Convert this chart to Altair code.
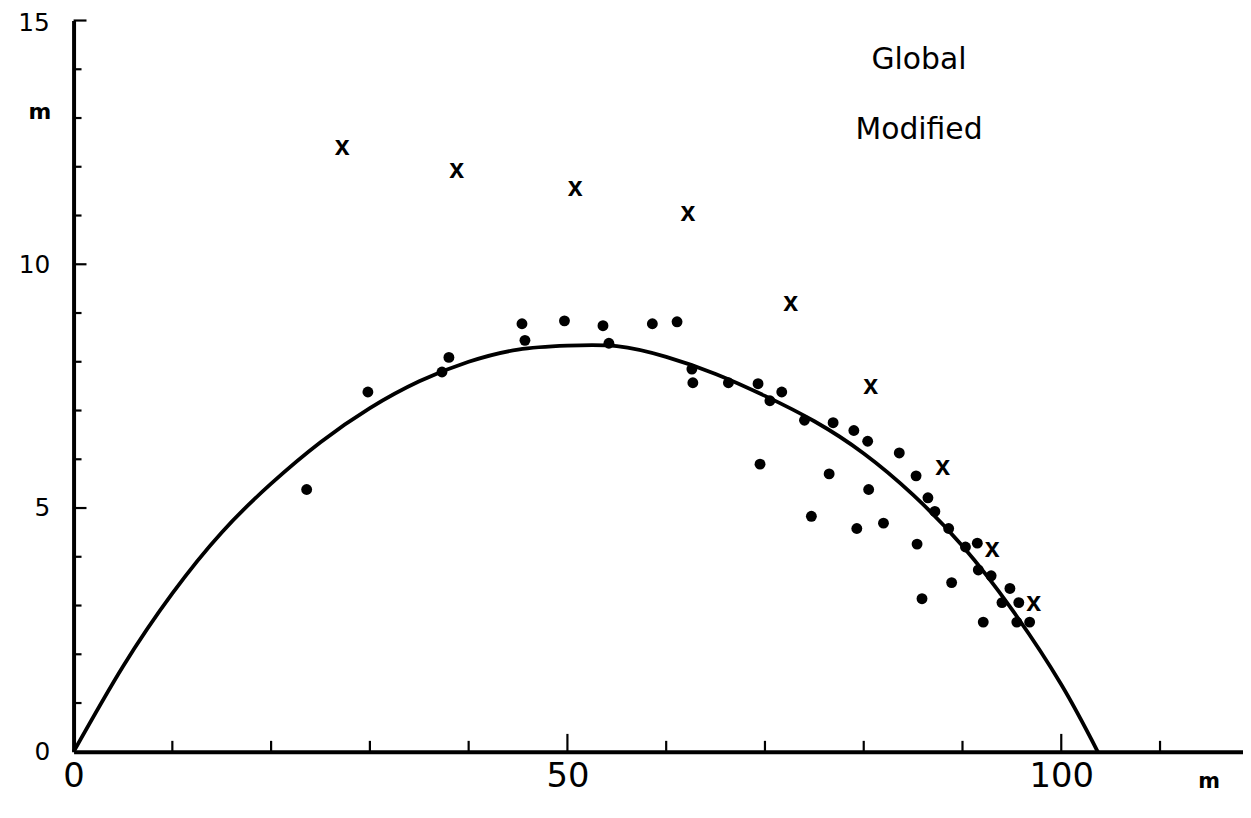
import altair as alt
import pandas as pd

# fitted curve
curve_x = [0, 5, 10, 15, 20, 25, 30, 35, 40, 45, 50, 55, 60, 65, 70, 75, 80, 85, 90, 95, 100, 103.7]
curve_y = [0, 1.75, 3.25, 4.5, 5.5, 6.35, 7.05, 7.6, 8.0, 8.25, 8.33, 8.32, 8.1, 7.75, 7.3, 6.78, 6.12, 5.27, 4.22, 2.92, 1.38, 0]

# observed points (dots)
dot_x = [23.6, 29.8, 38.0, 37.3, 45.4, 45.7, 49.7, 53.6, 54.2, 58.6, 61.1, 62.6, 62.7, 66.3, 69.3,
         70.5, 71.7, 69.5, 74.0, 76.9, 79.0, 80.4, 83.6, 76.5, 85.3, 80.5, 86.5, 87.2, 74.7, 88.6,
         79.3, 82.0, 85.4, 90.3, 91.5, 91.6, 92.9, 88.9, 94.8, 94.0, 95.7, 85.9, 92.1, 95.5, 96.8]
dot_y = [5.38, 7.38, 8.09, 7.79, 8.78, 8.44, 8.84, 8.74, 8.38, 8.78, 8.82, 7.85, 7.57, 7.57, 7.55,
         7.20, 7.38, 5.90, 6.80, 6.75, 6.59, 6.37, 6.13, 5.70, 5.66, 5.38, 5.21, 4.93, 4.83, 4.58,
         4.58, 4.69, 4.26, 4.20, 4.28, 3.73, 3.61, 3.47, 3.35, 3.06, 3.06, 3.14, 2.66, 2.66, 2.66]

# "x" points
cross_x = [27.2, 38.8, 50.8, 62.2, 72.6, 80.7, 88.0, 93.0, 97.2]
cross_y = [12.39, 11.91, 11.54, 11.03, 9.19, 7.48, 5.82, 4.14, 3.04]

# tick positions and labels
x_minor = [10, 20, 30, 40, 60, 70, 80, 90, 110]
x_major = [50, 100]
x_labels = [0, 50, 100]
y_minor = [1, 2, 3, 4, 6, 7, 8, 9, 11, 12, 13, 14]
y_major = [5, 10, 15]
y_labels = [0, 5, 10]
y_top_label = "15"

W, H = 1177, 736
FONT = "DejaVu Sans"

xs = alt.Scale(domain=[0, 118.4], nice=False, zero=False)
ys = alt.Scale(domain=[0, 15], nice=False, zero=False)

xaxis = alt.Axis(values=x_labels, ticks=False, grid=False, domainWidth=4, domainColor="black",
                 labelFontSize=34, labelFont=FONT, labelColor="black", labelPadding=8, title=None,
                 labelFlush=False)
yaxis = alt.Axis(values=y_labels, ticks=False, grid=False, domainWidth=4, domainColor="black",
                 labelFontSize=25, labelFont=FONT, labelColor="black", labelPadding=24, title=None,
                 labelFlush=False, labelBaseline="middle")

curve_df = pd.DataFrame({"x": curve_x, "y": curve_y})
dots_df = pd.DataFrame({"x": dot_x, "y": dot_y})
cross_df = pd.DataFrame({"x": cross_x, "y": cross_y})

curve = alt.Chart(curve_df).mark_line(color="black", strokeWidth=3.8, interpolate="natural").encode(
    x=alt.X("x:Q", scale=xs, axis=xaxis),
    y=alt.Y("y:Q", scale=ys, axis=yaxis),
)

dots = alt.Chart(dots_df).mark_circle(color="black", size=120, opacity=1).encode(
    x=alt.X("x:Q", scale=xs), y=alt.Y("y:Q", scale=ys)
)

crosses = alt.Chart(cross_df).mark_text(text="x", font="Liberation Sans", fontSize=27, fontWeight="bold",
                                          color="black", baseline="alphabetic", dy=7).encode(
    x=alt.X("x:Q", scale=xs), y=alt.Y("y:Q", scale=ys)
)

xmin_t = alt.Chart(pd.DataFrame({"v": x_minor})).mark_rule(color="black", strokeWidth=2.2).encode(
    x=alt.X("v:Q", scale=xs), y=alt.value(H), y2=alt.value(H - 11))
xmaj_t = alt.Chart(pd.DataFrame({"v": x_major})).mark_rule(color="black", strokeWidth=2.2).encode(
    x=alt.X("v:Q", scale=xs), y=alt.value(H), y2=alt.value(H - 18))
ymin_t = alt.Chart(pd.DataFrame({"v": y_minor})).mark_rule(color="black", strokeWidth=2.2).encode(
    y=alt.Y("v:Q", scale=ys), x=alt.value(0), x2=alt.value(8))
ymaj_t = alt.Chart(pd.DataFrame({"v": y_major})).mark_rule(color="black", strokeWidth=2.2).encode(
    y=alt.Y("v:Q", scale=ys), x=alt.value(0), x2=alt.value(13))

top_lbl = alt.Chart(pd.DataFrame({"t": [y_top_label]})).mark_text(
    font=FONT, fontSize=25, color="black", align="right", baseline="top").encode(
    x=alt.value(-24), y=alt.value(-9), text="t:N")

ann_df = pd.DataFrame({"x": [85.6, 85.6], "y": [14.18, 12.76], "t": ["Global", "Modified"]})
ann = alt.Chart(ann_df).mark_text(font=FONT, fontSize=30, color="black", align="center",
                                  baseline="middle").encode(
    x=alt.X("x:Q", scale=xs), y=alt.Y("y:Q", scale=ys), text="t:N")

m_y = alt.Chart(pd.DataFrame({"t": ["m"]})).mark_text(font=FONT, fontSize=22, fontWeight="bold",
                                                        color="black").encode(
    x=alt.value(-34), y=alt.value(92), text="t:N")
m_x = alt.Chart(pd.DataFrame({"t": ["m"]})).mark_text(font=FONT, fontSize=21, fontWeight="bold",
                                                        color="black").encode(
    x=alt.value(1143), y=alt.value(30 + H), text="t:N")

chart = alt.layer(curve, xmin_t, xmaj_t, ymin_t, ymaj_t, dots, crosses, ann, top_lbl, m_y, m_x).properties(
    width=W, height=H,
    autosize=alt.AutoSizeParams(type="none"),
    padding={"left": 66, "top": 10, "right": 0, "bottom": 56},
    background="white",
).configure_view(stroke=None)

chart.save("out.html", embed_options={"renderer": "svg", "actions": False})
